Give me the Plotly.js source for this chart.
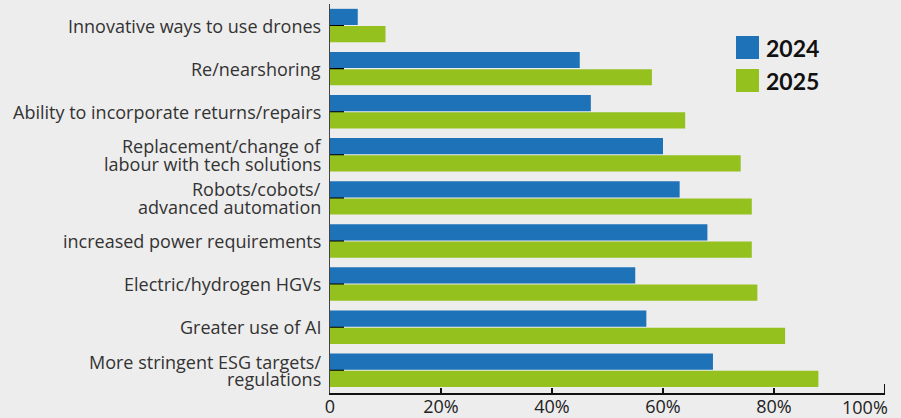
<!DOCTYPE html>
<html>
<head>
<meta charset="utf-8">
<script src="https://cdn.plot.ly/plotly-3.0.1.min.js"></script>
<style>
html,body{margin:0;padding:0;background:#ededed;}
#chart{width:901px;height:418px;}
</style>
</head>
<body>
<div id="chart"></div>
<script>
// ---- data ----
var categories = [
  "Innovative ways to use drones",
  "Re/nearshoring",
  "Ability to incorporate returns/repairs",
  "Replacement/change of <br>labour with tech solutions",
  "Robots/cobots/<br>advanced automation",
  "increased power requirements",
  "Electric/hydrogen HGVs",
  "Greater use of AI",
  "More stringent ESG targets/<br>regulations"
];
var seriesNames = ["2024", "2025"];
var values2024 = [5, 45, 47, 60, 63, 68, 55, 57, 69];
var values2025 = [10, 58, 64, 74, 76, 76, 77, 82, 88];
var seriesColors = ["#1d72b8", "#95c11f"];
var xTickVals = [0, 20, 40, 60, 80, 100];
var xTickText = ["0", "20%", "40%", "60%", "80%", "100%"];

// ---- layout constants ----
var W = 901, H = 418;
var M = {l: 330, r: 16, t: 4, b: 25};
var PW = W - M.l - M.r, PH = H - M.t - M.b;
function px2x(px){ return (px - M.l) / PW; }
function py2y(py){ return (H - M.b - py) / PH; }
var FONT = '"Open Sans", Lato, sans-serif';

var traces = [
  {type: 'bar', orientation: 'h', name: seriesNames[0], y: categories, x: values2024,
   marker: {color: seriesColors[0]}, showlegend: false, hoverinfo: 'x+y'},
  {type: 'bar', orientation: 'h', name: seriesNames[1], y: categories, x: values2025,
   marker: {color: seriesColors[1]}, showlegend: false, hoverinfo: 'x+y'}
];

var shapes = [];
var annotations = [];

// category labels, one annotation per line for tight line spacing
var LINE = 17.5;
categories.forEach(function(cat, idx){
  var lines = cat.split('<br>');
  var n = lines.length;
  lines.forEach(function(t, k){
    annotations.push({xref: 'paper', yref: 'y', x: 0, y: idx, xanchor: 'right', yanchor: 'middle',
      xshift: -7, yshift: -(k - (n - 1) / 2) * LINE, showarrow: false, text: t.trim(),
      font: {family: FONT, size: 18, color: '#333333'}});
  });
});

// legend drawn with shapes + annotations
var legendTop = [36, 69];
for (var i = 0; i < seriesNames.length; i++) {
  shapes.push({type: 'rect', xref: 'paper', yref: 'paper',
    x0: px2x(736), x1: px2x(759), y0: py2y(legendTop[i] + 23), y1: py2y(legendTop[i]),
    fillcolor: seriesColors[i], line: {width: 0}});
  annotations.push({xref: 'paper', yref: 'paper', x: px2x(764), y: py2y(legendTop[i] + 11.5),
    xanchor: 'left', yanchor: 'middle', showarrow: false, text: '<b>' + seriesNames[i] + '</b>',
    font: {family: 'Lato, "Open Sans", sans-serif', size: 23, color: '#111111'}});
}
// end mark at 100%
shapes.push({type: 'line', xref: 'x', yref: 'paper', x0: xTickVals[xTickVals.length-1], x1: xTickVals[xTickVals.length-1],
  y0: 0, y1: 9 / PH, line: {color: '#111111', width: 2}});
// last tick label kept inside the picture
var tickTextShown = xTickText.slice();
tickTextShown[tickTextShown.length - 1] = '';
annotations.push({xref: 'paper', yref: 'paper', x: 1, y: 0, xanchor: 'right', yanchor: 'top',
  xshift: 5, yshift: 0, showarrow: false, text: xTickText[xTickText.length - 1],
  font: {family: FONT, size: 18, color: '#222222'}});

var layout = {
  width: W, height: H,
  margin: M,
  paper_bgcolor: '#ededed',
  plot_bgcolor: '#ededed',
  barmode: 'group',
  bargap: 0.2,
  bargroupgap: 0.06,
  showlegend: false,
  xaxis: {
    range: [0, 100], fixedrange: true,
    tickvals: xTickVals, ticktext: tickTextShown,
    ticks: 'inside', ticklen: 5, tickwidth: 2, tickcolor: '#111111',
    showline: true, linecolor: '#111111', linewidth: 1.5,
    showgrid: false, zeroline: false,
    tickfont: {family: FONT, size: 18, color: '#222222'},
    ticklabelstandoff: -3,
    layer: 'below traces'
  },
  yaxis: {
    autorange: 'reversed', fixedrange: true,
    ticks: 'inside', ticklen: 14, tickwidth: 2, tickcolor: '#000000',
    showline: true, linecolor: '#444444', linewidth: 1.5,
    showgrid: false, zeroline: false,
    showticklabels: false,
    layer: 'below traces'
  },
  shapes: shapes,
  annotations: annotations
};

Plotly.newPlot('chart', traces, layout, {displayModeBar: false, staticPlot: true});
</script>
</body>
</html>
